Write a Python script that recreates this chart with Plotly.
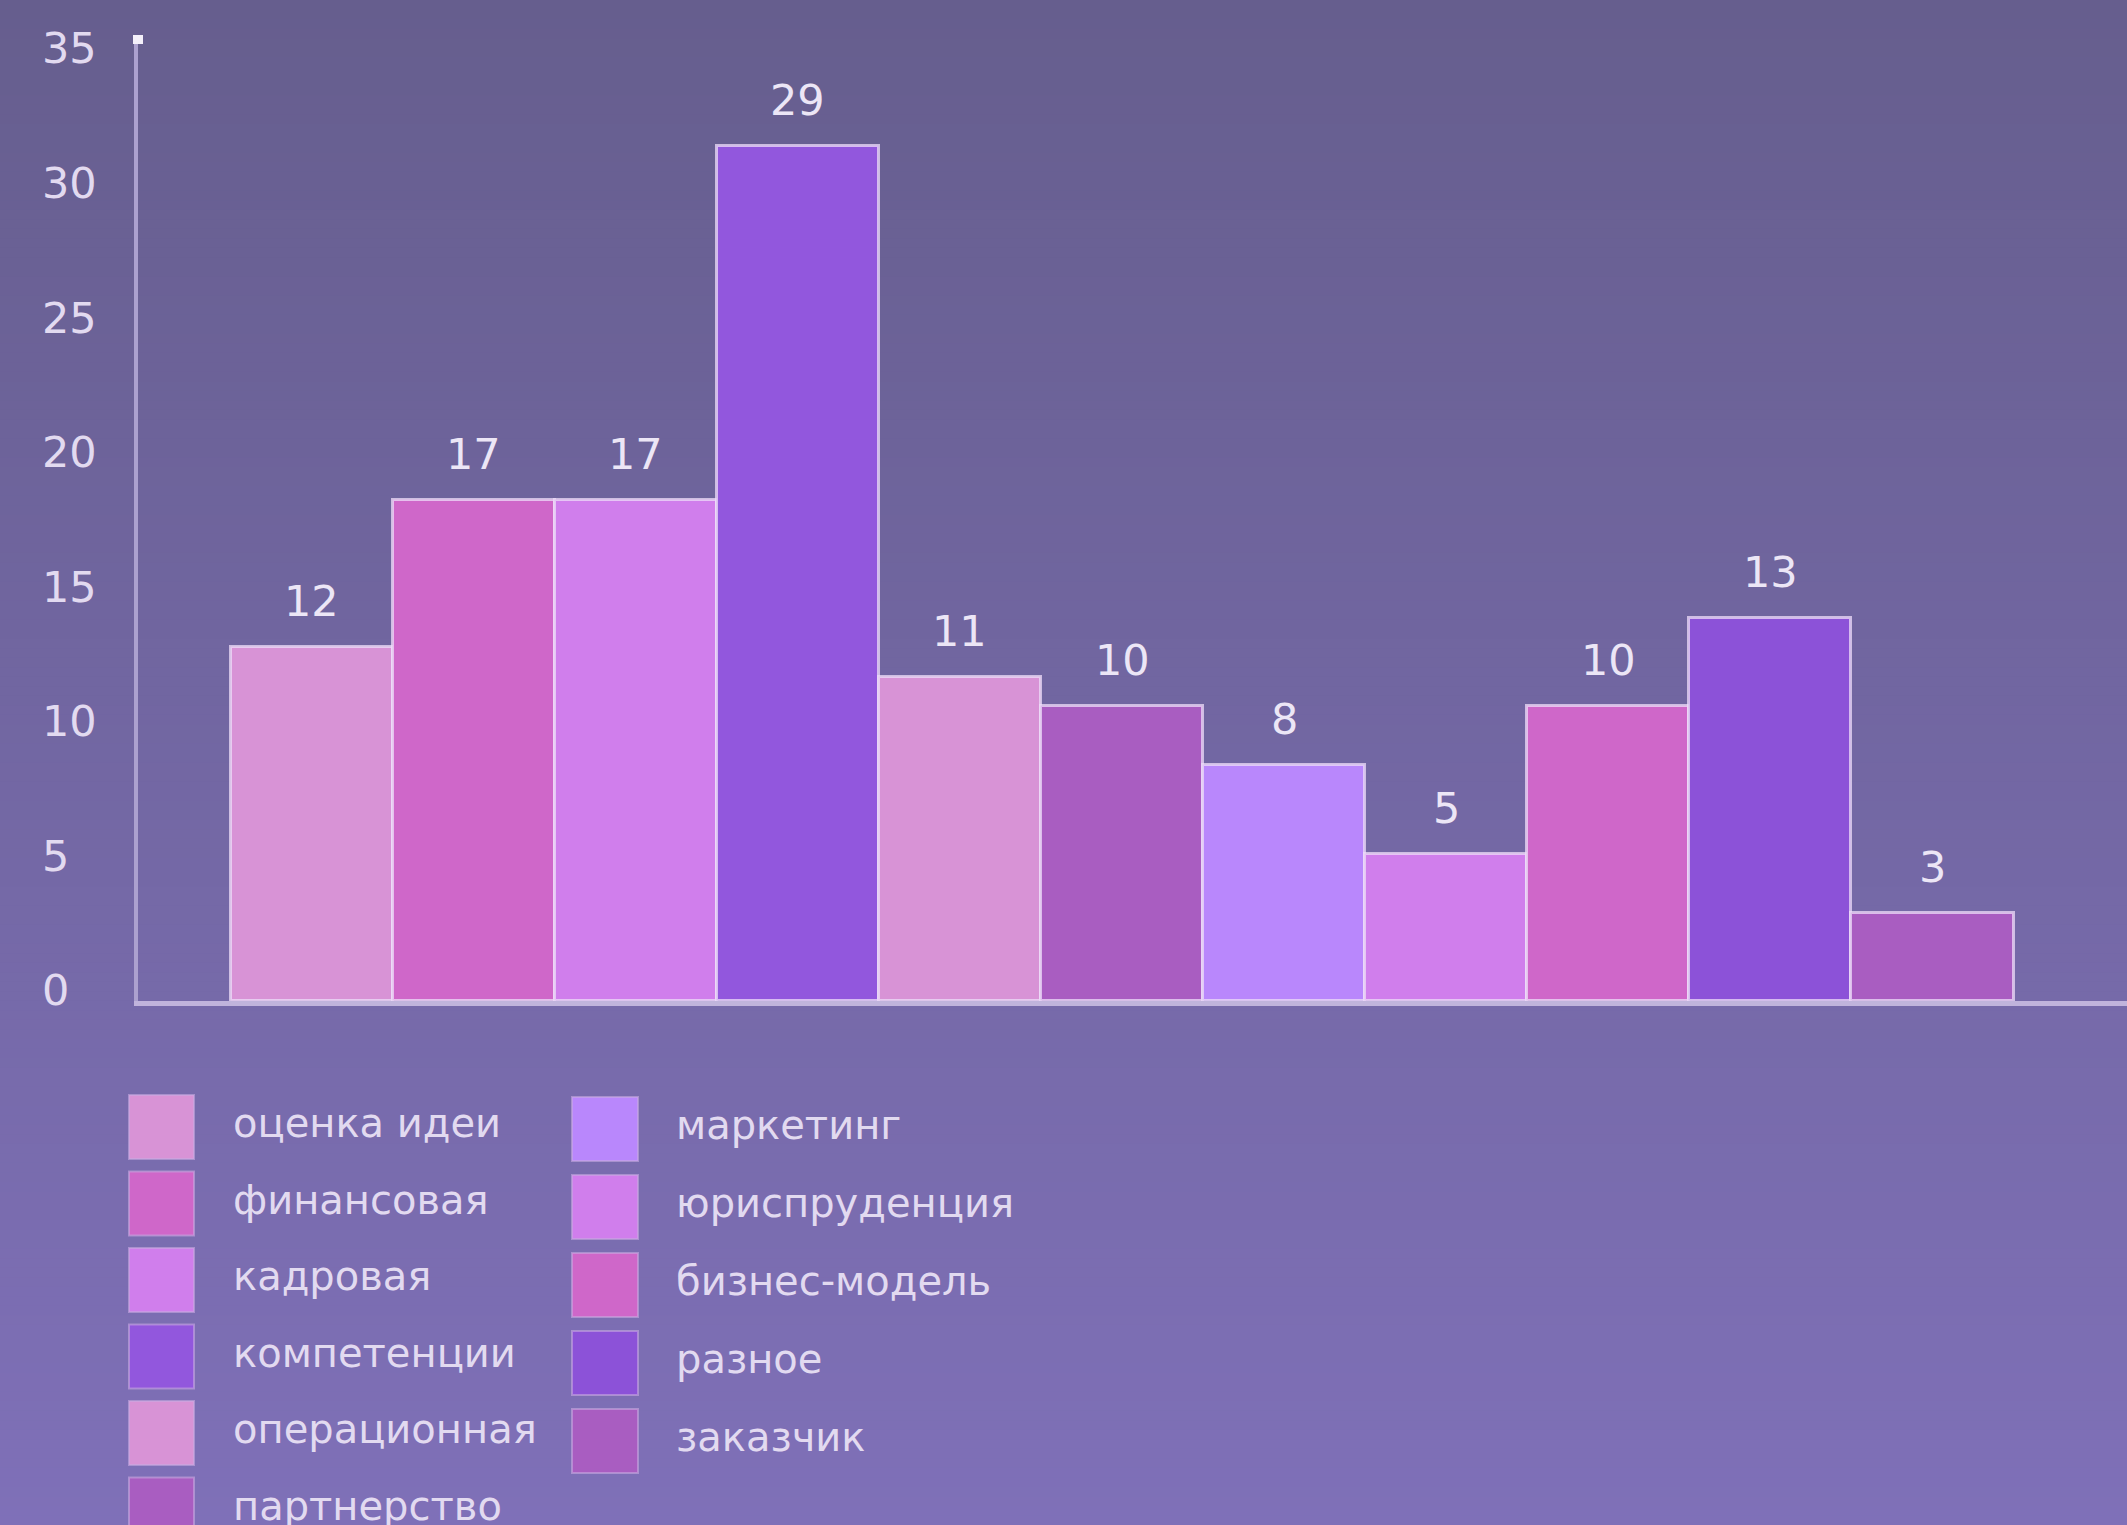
import plotly.graph_objects as go

# ---------------- data ----------------
categories = ["оценка идеи", "финансовая", "кадровая", "компетенции", "операционная",
              "партнерство", "маркетинг", "юриспруденция", "бизнес-модель", "разное", "заказчик"]
values = [12, 17, 17, 29, 11, 10, 8, 5, 10, 13, 3]
bar_colors = ["#d893d6", "#cf67c9", "#d07eec", "#9257dd", "#d893d6",
              "#a95dc1", "#b987fc", "#d07eec", "#cf67c9", "#8c52d8", "#a95dc1"]
tick_values = [0, 5, 10, 15, 20, 25, 30, 35]
tick_labels = ["0", "5", "10", "15", "20", "25", "30", "35"]

# ---------------- layout geometry (pixels) ----------------
W, H = 2127, 1525
L, R, T, B = 138, 0, 38, 1525 - 1001
PW, PH = W - L - R, H - T - B
BAR_PX_PER_UNIT = 29.5
TICK_PX_PER_UNIT = 26.9
TICK_ZERO_PY = 990


def px_x(px):
    return (px - L) / PW


def px_y(py):
    return (H - B - py) / PH


FONT = "DejaVu Sans"
TXT = "#e2daf0"

fig = go.Figure()
fig.add_trace(go.Bar(
    x=categories, y=values,
    marker=dict(color=bar_colors, line=dict(color="rgba(238,222,248,0.75)", width=3)),
    width=1.0, showlegend=False, hoverinfo="x+y",
))

shapes = []
# background gradient (vertical)
top_c = (102, 94, 142)
bot_c = (127, 112, 184)
N = 160
for i in range(N):
    t = (i + 0.5) / N
    c = tuple(round(top_c[k] + (bot_c[k] - top_c[k]) * t) for k in range(3))
    y0 = i * H / N
    y1 = (i + 1) * H / N + 1
    shapes.append(dict(type="rect", xref="paper", yref="paper", layer="below",
                       x0=px_x(0), x1=px_x(W), y0=px_y(y1), y1=px_y(y0),
                       fillcolor="rgb(%d,%d,%d)" % c, line=dict(width=0)))
# y axis arrow tip
shapes.append(dict(type="rect", xref="paper", yref="paper", layer="above",
                   x0=px_x(133), x1=px_x(143), y0=px_y(44), y1=px_y(35),
                   fillcolor="#f4f0fa", line=dict(width=0)))

annotations = []
# value labels above bars
for c, v in zip(categories, values):
    annotations.append(dict(x=c, y=v, xref="x", yref="y", text=str(v), showarrow=False,
                            yanchor="middle", xanchor="center", yshift=46,
                            font=dict(family=FONT, size=43, color="#ece6f6")))
# y tick labels (left aligned)
for tv, tl in zip(tick_values, tick_labels):
    annotations.append(dict(x=px_x(40), y=px_y(TICK_ZERO_PY - TICK_PX_PER_UNIT * tv),
                            xref="paper", yref="paper", text=tl, showarrow=False,
                            xanchor="left", yanchor="middle",
                            font=dict(family=FONT, size=43, color=TXT)))

# custom legend: two columns
col_specs = [
    dict(idx=range(0, 6), sx0=129, sx1=194, tx=231, cy0=1127, step=76.5),
    dict(idx=range(6, 11), sx0=572, sx1=638, tx=674, cy0=1129, step=78),
]
for spec in col_specs:
    for r, i in enumerate(spec["idx"]):
        cy = spec["cy0"] + r * spec["step"]
        shapes.append(dict(type="rect", xref="paper", yref="paper", layer="above",
                           x0=px_x(spec["sx0"]), x1=px_x(spec["sx1"]),
                           y0=px_y(cy + 32), y1=px_y(cy - 32),
                           fillcolor=bar_colors[i],
                           line=dict(color="rgba(200,170,225,0.6)", width=2)))
        annotations.append(dict(x=px_x(spec["tx"]), y=px_y(cy - 4), xref="paper", yref="paper",
                                text=categories[i], showarrow=False,
                                xanchor="left", yanchor="middle",
                                font=dict(family=FONT, size=40, color=TXT)))

fig.update_layout(
    width=W, height=H,
    margin=dict(l=L, r=R, t=T, b=B, pad=0),
    paper_bgcolor="#7268a2",
    plot_bgcolor="rgba(0,0,0,0)",
    bargap=0,
    shapes=shapes,
    annotations=annotations,
    xaxis=dict(range=[-1.071, 11.2], showline=True, linecolor="#c0b4dc", linewidth=5,
               showticklabels=False, ticks="", showgrid=False, zeroline=False, fixedrange=True),
    yaxis=dict(range=[0, PH / BAR_PX_PER_UNIT], showline=True, linecolor="#aca1cf", linewidth=4,
               showticklabels=False, ticks="", showgrid=False, zeroline=False, fixedrange=True),
    font=dict(family=FONT, color=TXT),
)

fig.write_html("out.html", config=dict(displayModeBar=False),
               post_script="document.body.style.margin='0';document.body.style.padding='0';"
                           "document.body.style.overflow='hidden';"
                           "document.body.style.background='#7f70b8';")
